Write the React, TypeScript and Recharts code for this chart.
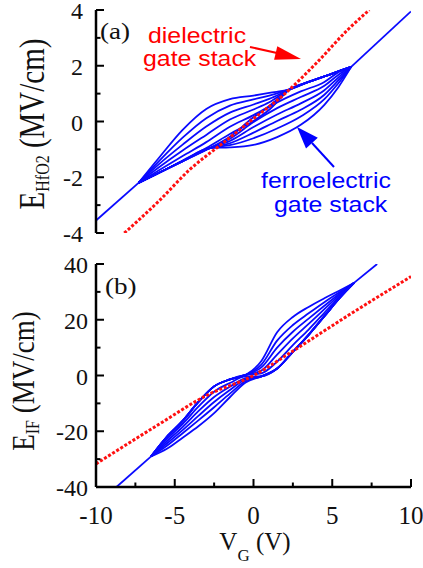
import React from "react";
import { LineChart, Line, XAxis, YAxis } from "recharts";

// ---- shared axes ----
const X_TICKS = [-10, -7.5, -5, -2.5, 0, 2.5, 5, 7.5, 10];
const YA_TICKS = [-4, -3, -2, -1, 0, 1, 2, 3, 4];
const YB_TICKS = [-40, -30, -20, -10, 0, 10, 20, 30, 40];

// ---- panel (a): E_HfO2 vs V_G ----
const aRedV = [-8.2, -6, -4, -2, 0, 2, 4, 6, 7.35];
const aRedE = [-4, -2.85, -1.7, -0.8, 0.1, 1.0, 2.1, 3.3, 4];
const aTailLeftV = [-10, -7.3];
const aTailLeftE = [-3.55, -2.2];
const aTailRightV = [6.2, 10];
const aTailRightE = [1.96, 3.95];
// upper branches: own part, then common part up to the right tip
const aUpV = [-7.3, -6, -4.5, -3, -1.5, 0, 1];
const aUpE = [
  [-2.2, -1.3, -0.3, 0.45, 0.8, 0.93, 1.03],
  [-2.2, -1.42, -0.58, 0.12, 0.57, 0.79, 0.93],
  [-2.2, -1.53, -0.83, -0.18, 0.32, 0.61, 0.81],
  [-2.2, -1.64, -1.04, -0.48, 0.07, 0.43, 0.69],
  [-2.2, -1.75, -1.24, -0.74, -0.19, 0.23, 0.56],
  [-2.2, -1.85, -1.4, -0.95, -0.45, 0.02, 0.42],
];
const aUpSharedV = [2.3, 3.5, 5, 6.2];
const aUpSharedE = [1.15, 1.42, 1.72, 1.96];
// lower branches: common part from the left tip, then own part
const aLoSharedV = [-7.3, -6, -4.5, -2.75];
const aLoSharedE = [-2.2, -1.84, -1.42, -0.95];
const aLoV = [-1.5, 0, 1.5, 3, 4.5, 5.4, 6.2];
const aLoE = [
  [-0.93, -0.84, -0.56, -0.12, 0.6, 1.24, 1.96],
  [-0.85, -0.6, -0.25, 0.18, 0.8, 1.38, 1.96],
  [-0.78, -0.4, 0.02, 0.42, 0.96, 1.48, 1.96],
  [-0.7, -0.2, 0.25, 0.65, 1.12, 1.58, 1.96],
  [-0.62, -0.02, 0.48, 0.88, 1.28, 1.68, 1.96],
  [-0.55, 0.15, 0.68, 1.08, 1.42, 1.77, 1.96],
];

// ---- panel (b): E_IF vs V_G ----
const bRedV = [-10, -6, -3, 0, 2.4, 6, 10];
const bRedE = [-31.7, -17.5, -7.2, 0, 8.4, 21.5, 35.5];
const bTailLeftV = [-8.7, -6.5];
const bTailLeftE = [-40, -29];
const bTailRightV = [6.4, 7.85];
const bTailRightE = [33.3, 40];
const bUpSharedV = [-6.5, -5.5, -4.5, -3.5, -2.5, -1.5, -0.5];
const bUpSharedE = [-29, -22, -16.3, -9.5, -3.9, -1.4, 0.2];
const bUpV = [0.5, 1.5, 2.5, 3.5, 4.5, 5.5, 6.4];
const bUpE = [
  [5.2, 15.5, 21, 24.6, 27.7, 30.6, 33.3],
  [3.9, 12.5, 18.1, 22.3, 26.3, 30, 33.3],
  [2.9, 10, 15.7, 20.4, 25, 29.5, 33.3],
  [1.8, 7.5, 13.3, 18.5, 23.8, 29, 33.3],
  [0.8, 5, 10.9, 16.5, 22.5, 28.5, 33.3],
];
const bLoV = [-6.5, -5.5, -4.5, -3.5, -2.5, -1.5, -0.5];
const bLoE = [
  [-29, -26.3, -22.3, -18.2, -13.5, -7.8, -2.5],
  [-29, -25.2, -20.7, -16.1, -11.4, -6.5, -2.0],
  [-29, -24.4, -19.6, -14.5, -9.5, -5.2, -1.4],
  [-29, -23.6, -18.5, -12.8, -7.7, -4.0, -0.9],
  [-29, -22.8, -17.4, -11.2, -5.8, -2.7, -0.3],
];
const bLoSharedV = [0.5, 1.5, 2.5, 3.5, 4.5, 5.5, 6.4];
const bLoSharedE = [-0.3, 2.5, 8.5, 14.6, 21.3, 28, 33.3];

const pts = (vs: number[], es: number[]) => vs.map((v, i) => ({ v, e: es[i] }));

const aCurves = [
  pts(aTailLeftV, aTailLeftE),
  pts(aTailRightV, aTailRightE),
  ...aUpE.map((es) => [...pts(aUpV, es), ...pts(aUpSharedV, aUpSharedE)]),
  ...aLoE.map((es) => [...pts(aLoSharedV, aLoSharedE), ...pts(aLoV, es)]),
];
const bCurves = [
  pts(bTailLeftV, bTailLeftE),
  pts(bTailRightV, bTailRightE),
  ...bUpE.map((es) => [...pts(bUpSharedV, bUpSharedE), ...pts(bUpV, es)]),
  ...bLoE.map((es) => [...pts(bLoV, es), ...pts(bLoSharedV, bLoSharedE)]),
];

const BLUE = "#0a0aff";
const RED = "#ff1010";
const SERIF = '"Liberation Serif", "Times New Roman", serif';
const SANS = '"Liberation Sans", Arial, sans-serif';
const AX = { stroke: "#000", strokeWidth: 2.5 };
const PL = 96;
const PR = 411;

const tl = (x1: number, y1: number, x2: number, y2: number) => (
  <line x1={x1} y1={y1} x2={x2} y2={y2} stroke="#000" strokeWidth={2} />
);

const bottomTicks = (yAx: number, labelY: number | null) => (p: any) => {
  const v = p.payload.value;
  const major = v % 5 === 0;
  return (
    <g>
      {tl(p.x, yAx, p.x, yAx - (major ? 8 : 4.5))}
      {major && labelY !== null && (
        <text x={p.x} y={labelY} textAnchor="middle" fontFamily={SERIF} fontSize={25} fill="#111">
          {v}
        </text>
      )}
    </g>
  );
};
const topTicks = (yAx: number) => (p: any) => {
  const major = p.payload.value % 5 === 0;
  return <g>{tl(p.x, yAx, p.x, yAx + (major ? 8 : 4.5))}</g>;
};
const leftTicks = (step: number, labelX: number) => (p: any) => {
  const v = p.payload.value;
  const major = v % step === 0;
  return (
    <g>
      {tl(PL, p.y, PL + (major ? 8 : 4.5), p.y)}
      {major && (
        <text x={labelX} y={p.y + 9} textAnchor="end" fontFamily={SERIF} fontSize={24} fill="#111">
          {v}
        </text>
      )}
    </g>
  );
};
const rightTicks = (step: number) => (p: any) => {
  const major = p.payload.value % step === 0;
  return <g>{tl(PR, p.y, PR - (major ? 8 : 4.5), p.y)}</g>;
};

function Panel(props: {
  height: number;
  margin: any;
  bottomH: number;
  top: number;
  bottom: number;
  yDomain: number[];
  yTicks: number[];
  step: number;
  labelX: number;
  xLabelY: number | null;
  curves: { v: number; e: number }[][];
  red: { v: number; e: number }[];
}) {
  return (
    <LineChart width={423} height={props.height} margin={props.margin}>
      <XAxis xAxisId="b" type="number" dataKey="v" domain={[-10, 10]} ticks={X_TICKS} interval={0}
        allowDataOverflow height={props.bottomH} axisLine={AX} tickLine={false}
        tick={bottomTicks(props.bottom, props.xLabelY)} />
      <XAxis xAxisId="t" orientation="top" type="number" dataKey="v" domain={[-10, 10]} ticks={X_TICKS}
        interval={0} allowDataOverflow height={0} axisLine={AX} tickLine={false} tick={topTicks(props.top)} />
      <YAxis yAxisId="l" type="number" domain={props.yDomain} ticks={props.yTicks} interval={0}
        allowDataOverflow width={96} axisLine={AX} tickLine={false} tick={leftTicks(props.step, props.labelX)} />
      <YAxis yAxisId="r" orientation="right" type="number" domain={props.yDomain} ticks={props.yTicks}
        interval={0} allowDataOverflow width={0} axisLine={AX} tickLine={false} tick={rightTicks(props.step)} />
      {props.curves.map((d, i) => (
        <Line key={"c" + i} xAxisId="b" yAxisId="l" data={d} dataKey="e" type="monotone" stroke={BLUE}
          strokeWidth={1.8} dot={false} isAnimationActive={false} />
      ))}
      <Line xAxisId="b" yAxisId="l" data={props.red} dataKey="e" type="monotone" stroke={RED}
        strokeWidth={3} strokeDasharray="3 1.8" dot={false} isAnimationActive={false} />
    </LineChart>
  );
}

function ST(props: { x: number; y: number; sx?: number; children: any; [k: string]: any }) {
  const { x, y, sx = 1, children, ...rest } = props;
  return (
    <text transform={`translate(${x},${y}) scale(${sx},1)`} {...rest}>
      {children}
    </text>
  );
}

export default function App() {
  return (
    <div style={{ position: "absolute", left: 0, top: 0, width: 423, height: 568, background: "#fff" }}>
      <div style={{ position: "absolute", left: 0, top: 0 }}>
        <Panel height={250} margin={{ top: 10, right: 12, bottom: 17, left: 0 }} bottomH={0}
          top={10} bottom={233} yDomain={[-4, 4]} yTicks={YA_TICKS} step={2} labelX={83}
          xLabelY={null} curves={aCurves} red={pts(aRedV, aRedE)} />
      </div>
      <div style={{ position: "absolute", left: 0, top: 250 }}>
        <Panel height={318} margin={{ top: 14, right: 12, bottom: 0, left: 0 }} bottomH={81}
          top={14} bottom={237} yDomain={[-40, 40]} yTicks={YB_TICKS} step={20} labelX={88}
          xLabelY={274} curves={bCurves} red={pts(bRedV, bRedE)} />
      </div>
      <svg width={423} height={568} style={{ position: "absolute", left: 0, top: 0, pointerEvents: "none" }}>
        {/* panel tags */}
        <ST x={100} y={39} sx={1.13} fontFamily={SERIF} fontSize={24} fill="#111">(a)</ST>
        <ST x={105} y={294} sx={1.13} fontFamily={SERIF} fontSize={24} fill="#111">(b)</ST>
        {/* annotations */}
        <ST x={148} y={43} sx={1.13} fontFamily={SANS} fontSize={22} fill="#ff0000">dielectric</ST>
        <ST x={143} y={66} sx={1.13} fontFamily={SANS} fontSize={22} fill="#ff0000">gate stack</ST>
        <line x1={250} y1={47} x2={277} y2={53} stroke="#ff0000" strokeWidth={2} />
        <polygon points="301,59 274.1,59.8 277.3,46.2" fill="#ff0000" />
        <ST x={261} y={188} sx={1.13} fontFamily={SANS} fontSize={22} fill="#0000ff">ferroelectric</ST>
        <ST x={274} y={212} sx={1.13} fontFamily={SANS} fontSize={22} fill="#0000ff">gate stack</ST>
        <line x1={334} y1={167} x2={312} y2={143} stroke="#0000ff" strokeWidth={2} />
        <polygon points="297,127 317.8,137.7 306,148.5" fill="#0000ff" />
        {/* axis titles */}
        <text transform="translate(44,124) rotate(-90) scale(1,1.2)" textAnchor="middle" fontFamily={SERIF}
          fontSize={29} fill="#111">
          E<tspan fontSize={16} dy={4}>HfO2</tspan>
          <tspan dy={-4}> (MV/cm)</tspan>
        </text>
        <text transform="translate(34,381) rotate(-90) scale(1,1.2)" textAnchor="middle" fontFamily={SERIF}
          fontSize={27} fill="#111">
          E<tspan fontSize={16} dy={4}>IF</tspan>
          <tspan dy={-4}> (MV/cm)</tspan>
        </text>
        <text x={255} y={550} textAnchor="middle" fontFamily={SERIF} fontSize={25} fill="#111">
          V<tspan fontSize={17} dy={11}>G</tspan>
          <tspan dy={-11}> (V)</tspan>
        </text>
      </svg>
    </div>
  );
}
